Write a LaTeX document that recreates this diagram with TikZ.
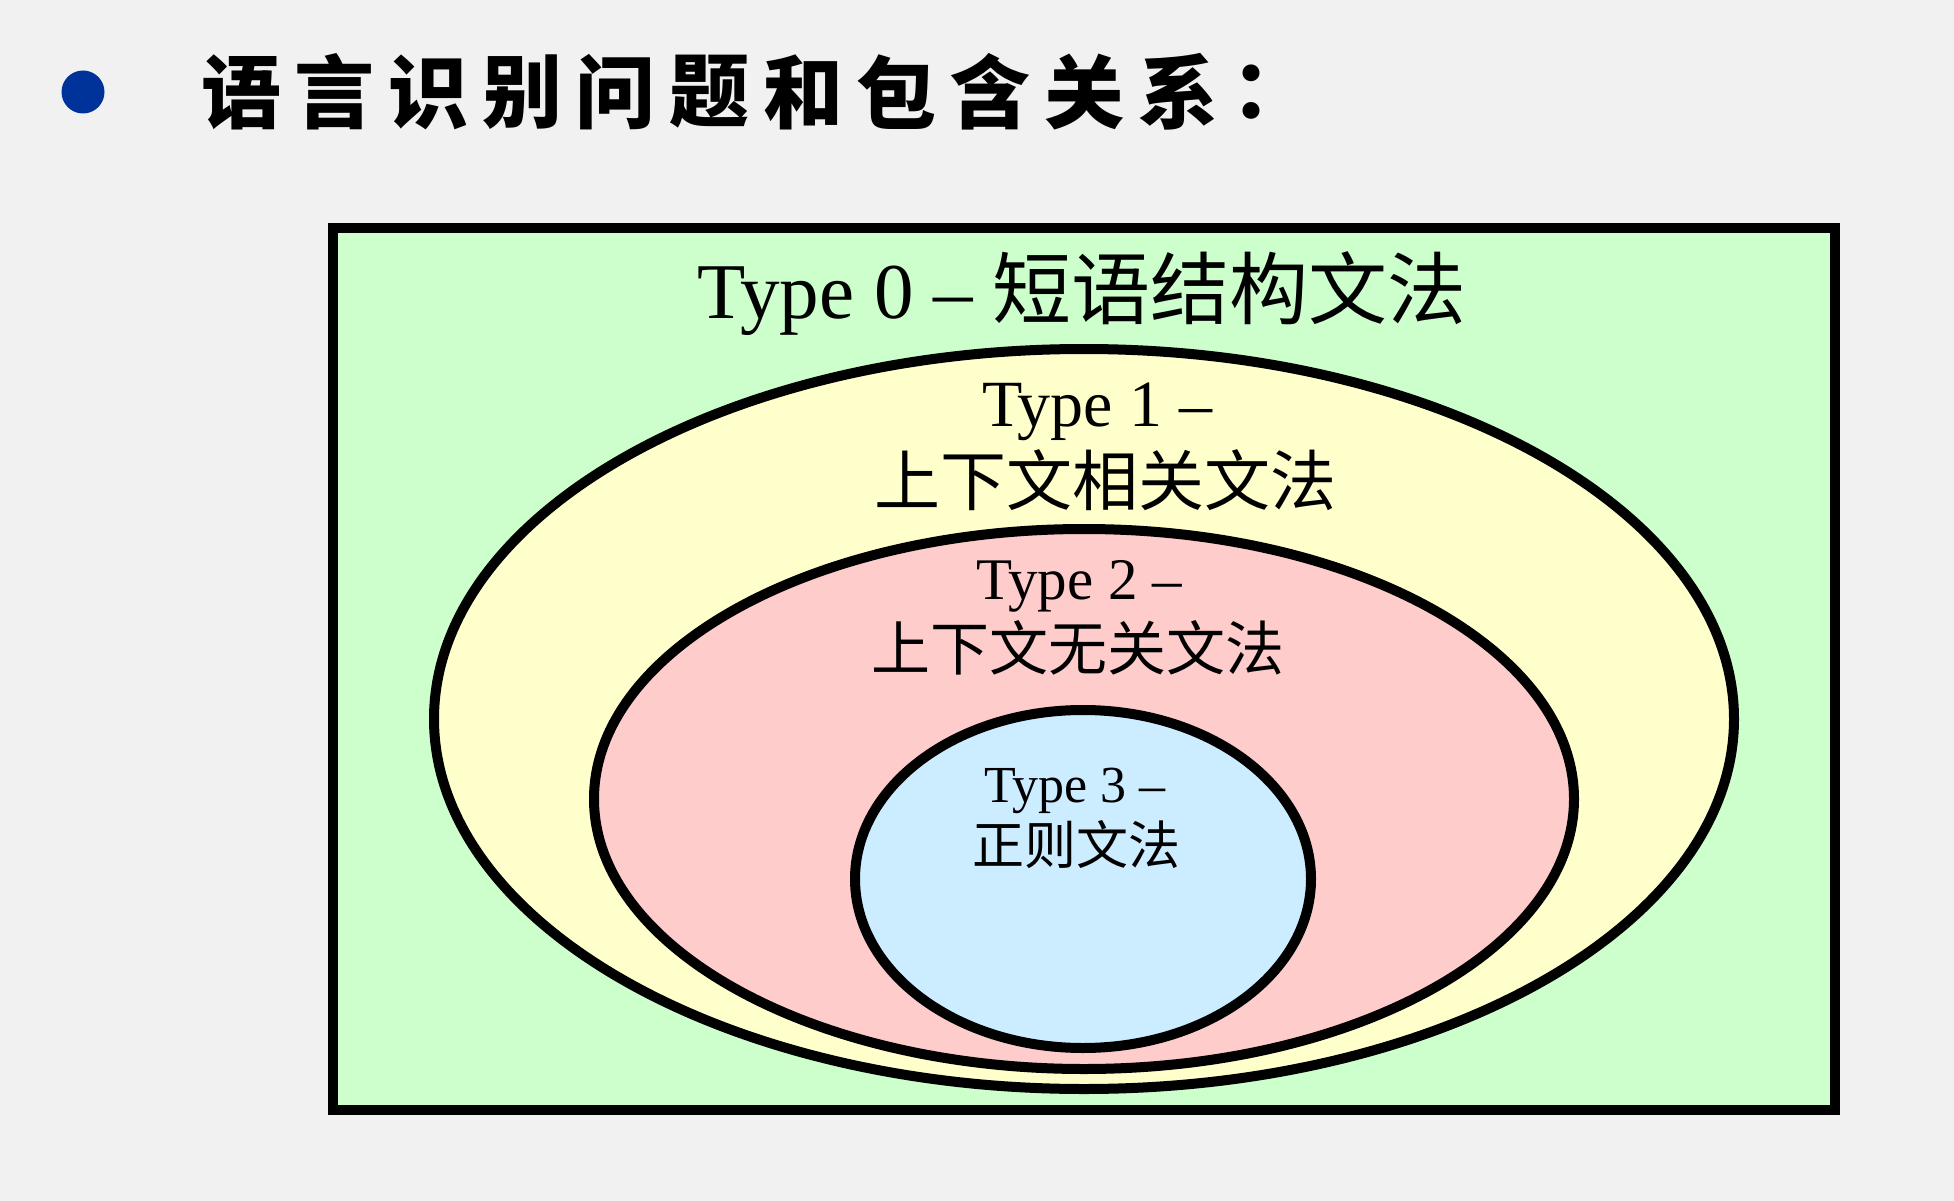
\documentclass[tikz,border=0pt]{standalone}
\usepackage{fontspec}
\setmainfont{Liberation Serif}
\newfontfamily\cjk{Noto Sans CJK SC}
\usepackage{tikz}
\usetikzlibrary{arrows}

\definecolor{slidebg}{RGB}{241,241,241}
\definecolor{bulletblue}{RGB}{0,51,153}
\definecolor{typezero}{RGB}{204,255,204}
\definecolor{typeone}{RGB}{255,255,204}
\definecolor{typetwo}{RGB}{255,204,204}
\definecolor{typethree}{RGB}{204,236,255}

\begin{document}
\begin{tikzpicture}[x=1pt,y=-1pt]

  %Styles for picture
  \tikzset
  {
  titlechar/.style={inner sep=0pt, outer sep=0pt, font=\cjk\bfseries\fontsize{80}{90}\selectfont},
  zerolabel/.style={inner sep=0pt, anchor=base, font=\fontsize{79}{95}\selectfont},
  onelabel/.style={inner sep=0pt, anchor=base, font=\fontsize{66}{79}\selectfont},
  twolabel/.style={inner sep=0pt, anchor=base, font=\fontsize{59}{71}\selectfont},
  threelabel/.style={inner sep=0pt, anchor=base, font=\fontsize{52}{62}\selectfont},
  region/.style={draw=black, line width=10pt},
  }

  % Background
  \useasboundingbox[fill=slidebg] (0,0) rectangle (1954,1201);

  % Title
  \node[circle, fill=bulletblue, inner sep=0pt, minimum size=43pt] (bullet) at (83,92) {};
  \foreach \ch [count=\i] in {语,言,识,别,问,题,和,包,含,关,系,：}
    \node[titlechar] (t\i) at ({241+93.7*(\i-1)},92) {\ch};

  % Regions
  \draw[region, fill=typezero] (333,228) rectangle (1835,1110);
  \draw[region, fill=typeone] (1084,719) ellipse [x radius=650, y radius=370];
  \draw[region, fill=typetwo] (1084,799) ellipse [x radius=490, y radius=270];
  \draw[region, fill=typethree] (1083,879) ellipse [x radius=228, y radius=169];

  % Labels
  \node[zerolabel] (l0) at (1082,318) {Type 0 – {\cjk 短语结构文法}};
  \node[onelabel] (l1a) at (1097,426) {Type 1 –};
  \node[onelabel] (l1b) at (1105,505) {\cjk 上下文相关文法};
  \node[twolabel] (l2a) at (1079,599) {Type 2 –};
  \node[twolabel] (l2b) at (1078,670) {\cjk 上下文无关文法};
  \node[threelabel] (l3a) at (1075,802) {Type 3 –};
  \node[threelabel] (l3b) at (1076,864) {\cjk 正则文法};

\end{tikzpicture}
\end{document}
